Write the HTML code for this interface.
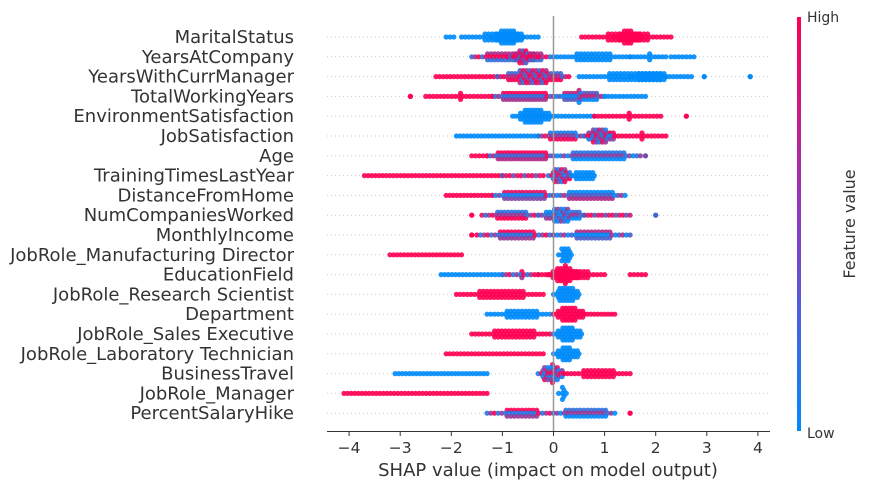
<!DOCTYPE html>
<html><head><meta charset="utf-8"><style>
body{margin:0;background:#fff;}
svg{display:block;font-family:"DejaVu Sans","Liberation Sans",sans-serif;}
</style></head><body>
<svg id="chart" width="870" height="490">
<defs><linearGradient id="cb" x1="0" y1="1" x2="0" y2="0"><stop offset="0" stop-color="#008bfb"/><stop offset="0.5" stop-color="#8a3cc6"/><stop offset="1" stop-color="#ff0052"/></linearGradient></defs>
<g id="grid"></g><g id="dots"></g><g id="labels"></g><g id="axis"></g>
<rect x="797" y="17" width="4" height="414" fill="url(#cb)"/>
<text x="807" y="22" font-size="14" fill="#333">High</text>
<text x="807" y="438" font-size="14" fill="#333">Low</text>
<text transform="translate(855,224) rotate(-90)" text-anchor="middle" font-size="16" fill="#333">Feature value</text>
<text x="548" y="476" text-anchor="middle" font-size="18" fill="#333">SHAP value (impact on model output)</text>
</svg>
<script>
const features=["MaritalStatus","YearsAtCompany","YearsWithCurrManager","TotalWorkingYears","EnvironmentSatisfaction","JobSatisfaction","Age","TrainingTimesLastYear","DistanceFromHome","NumCompaniesWorked","MonthlyIncome","JobRole_Manufacturing Director","EducationField","JobRole_Research Scientist","Department","JobRole_Sales Executive","JobRole_Laboratory Technician","BusinessTravel","JobRole_Manager","PercentSalaryHike"];
const xTicks=[-4,-3,-2,-1,0,1,2,3,4];
const xTickLabels=["\u22124","\u22123","\u22122","\u22121","0","1","2","3","4"];
// segments per feature: [shapLow, shapHigh, featureValue(0 low..1 high), halfHeightPx]
const seg0=[[-2.1,-1.95,0,2],[-1.8,-0.3,0,4],[-1.2,-0.6,0,8],[0.55,2.3,1,4],[1.2,1.7,1,7]];
const seg1=[[-1.6,0,0.65,5],[-0.9,-0.3,0.75,7],[0,1.5,0,4],[1.5,2.2,0,3],[2.3,2.75,0,1]];
const seg2=[[-2.3,-1.1,1,3],[-1.1,0.3,0.7,7],[0.5,2.7,0,4],[1.5,2.2,0,5],[2.95,2.95,0,1],[3.85,3.85,0,1]];
const seg3=[[-2.8,-2.8,1,1],[-2.5,-1.2,1,3],[-1.2,0,0.65,6],[0,1,0.35,6],[1,1.8,0,3]];
const seg4=[[-0.55,0.8,0,3],[-0.8,0,0,8],[0.8,2.1,1,3],[2.6,2.6,1,1]];
const seg5=[[-1.9,-0.3,0,3],[-0.3,0.6,0.55,5],[0.6,1.2,0.55,8],[1.2,2.2,1,3]];
const seg6=[[-1.6,-1.3,1,1],[-1.3,0,0.7,6],[0,1.7,0.15,5],[1.8,1.8,0.5,1]];
const seg7=[[-3.7,-1,1,2],[-1,-0.2,0.85,3],[-0.1,0.35,0.55,9],[0.35,0.8,0,6]];
const seg8=[[-2.1,-1.2,1,1],[-1.2,0,0.5,5],[0,1.4,0.3,5]];
const seg9=[[-1.6,-1.6,1,1],[-1.4,-0.3,0.6,4],[-0.3,0.6,0.2,7],[0.6,1.5,0.8,3],[2,2,0.6,1]];
const seg10=[[-1.6,-1.6,1,1],[-1.5,0,0.6,4],[0,1.5,0.3,4]];
const seg11=[[-3.2,-1.8,1,2],[0.1,0.35,0,8]];
const seg12=[[-2.2,-1.0,0,2],[-1.0,-0.3,0.6,3],[-0.3,1.0,1,4],[-0.1,0.5,1,9],[1.5,1.8,1,1]];
const seg13=[[-1.9,-0.2,1,4],[0,0.5,0,8]];
const seg14=[[-1.3,0,0,4],[0,0.6,1,8],[0.6,1.2,1,3]];
const seg15=[[-1.6,0,1,4],[0,0.55,0,8]];
const seg16=[[-2.1,-0.2,1,3],[0,0.5,0,7]];
const seg17=[[-3.1,-1.3,0,2],[-0.3,0.2,0.5,9],[0.2,1.5,1,4]];
const seg18=[[-4.1,-1.3,1,2],[0.1,0.25,0,7]];
const seg19=[[-1.3,0,0.6,4],[0,1.2,0.2,5],[1.5,1.5,1,1]];
const segments=[seg0,seg1,seg2,seg3,seg4,seg5,seg6,seg7,seg8,seg9,seg10,seg11,seg12,seg13,seg14,seg15,seg16,seg17,seg18,seg19];

const NS="http://www.w3.org/2000/svg";
const x0=553.5, ppu=51.1, yTop=37, yStep=19.8;
const xs=v=>x0+v*ppu, ys=i=>yTop+i*yStep;
function col(v){const a=[0,139,251],b=[255,0,82];return `rgb(${a.map((c,k)=>Math.round(c+(b[k]-c)*v)).join(',')})`;}
function mk(tag,attrs,parent){const e=document.createElementNS(NS,tag);for(const k in attrs)e.setAttribute(k,attrs[k]);parent.appendChild(e);return e;}
const grid=document.getElementById('grid'),dots=document.getElementById('dots'),labels=document.getElementById('labels'),axis=document.getElementById('axis');
features.forEach((f,i)=>{
  const y=ys(i);
  const g=mk('line',{x1:327,x2:770,y1:y,y2:y,stroke:'#ccc','stroke-dasharray':'1,3','stroke-width':1},grid);
  
  
  const t=mk('text',{x:294,y:y+6,'text-anchor':'end','font-size':18,fill:'#333'},labels);
  t.textContent=f;
  
  
  const grp=mk('g',{},dots);
  
  
  let idx=0;
  segments[i].forEach(s=>{
    const [lo,hi,v,h]=s;
    const px0=xs(lo),px1=xs(hi),len=Math.max(px1-px0,0);
    const step=h>=6?3.2:3.6;
    const n=Math.max(1,Math.round(len/step));
    for(let j=0;j<=n;j++){
      const t=n?j/n:0.5;
      const px=px0+len*t;
      const hh=h*Math.sin(Math.PI*(0.05+0.9*t));
      let rows=Math.max(0,Math.round((hh-1.5)/3));
      if(h<6 && (j%2)!==0) rows=Math.min(rows,1);
      if(h<=2) rows=0;
      for(let r=-rows;r<=rows;r++){
        idx++;
        let c=v;
        if(v>0&&v<1){const m=idx%3;c=m===0?Math.min(1,v+0.4):m===1?Math.max(0,v-0.45):v;}
        const d=mk('circle',{cx:px+((r&1)?1.6:0),cy:y+r*3,r:2.6,fill:col(c),'fill-opacity':0.9},grp);
        
        
      }
    }
  });
});
const zl=mk('line',{x1:x0,x2:x0,y1:16,y2:431,stroke:'#999','stroke-width':1.5},axis);


const al=mk('line',{x1:327,x2:770,y1:431.5,y2:431.5,stroke:'#333','stroke-width':1},axis);


xTicks.forEach((v,k)=>{
  const tk=mk('line',{x1:xs(v),x2:xs(v),y1:431.5,y2:436,stroke:'#333'},axis);
  
  
  const tl=mk('text',{x:xs(v),y:453,'text-anchor':'middle','font-size':15.5,fill:'#333'},axis);
  tl.textContent=xTickLabels[k];
  
  
});
</script>
</body></html>
